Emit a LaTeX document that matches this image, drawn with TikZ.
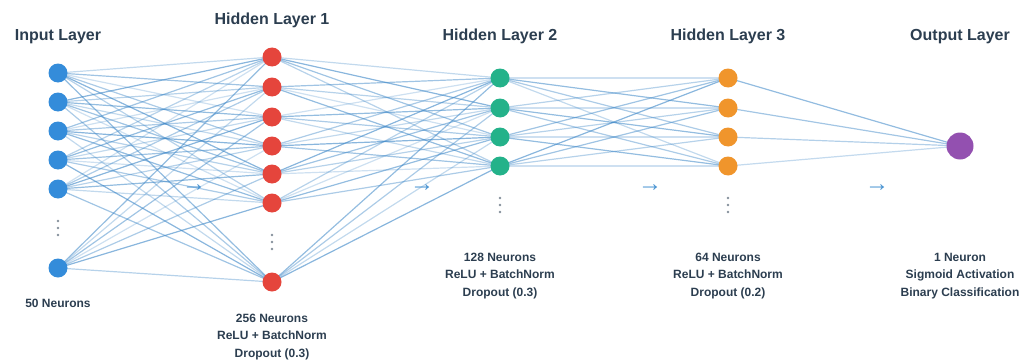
\documentclass[tikz,border=0pt]{standalone}
\usepackage{fontspec}
\setmainfont{Liberation Sans}
\usetikzlibrary{backgrounds}

\definecolor{ink}{HTML}{2C3E50}
\definecolor{inblue}{HTML}{348CDA}
\definecolor{hred}{HTML}{E5453C}
\definecolor{hgreen}{HTML}{24B28A}
\definecolor{horange}{HTML}{F0952C}
\definecolor{outpurple}{HTML}{9350B0}
\definecolor{linkblue}{HTML}{3A85C6}
\definecolor{arrowblue}{HTML}{4A94D2}
\definecolor{dotgray}{HTML}{85909A}

\begin{document}
\begin{tikzpicture}[x=1pt,y=-1pt,
  neuron/.style={circle, inner sep=0pt, minimum size=19pt, draw=none},
  bigneuron/.style={circle, inner sep=0pt, minimum size=27pt, draw=none},
  link/.style={draw=linkblue, line width=1.2pt},
  title/.style={font=\bfseries\fontsize{16}{19}\selectfont, text=ink, anchor=base, inner sep=0pt},
  caption/.style={font=\bfseries\fontsize{12}{17.5}\selectfont, text=ink, align=center, anchor=base, inner sep=0pt},
  flow/.style={text=arrowblue, font=\fontsize{24}{24}\selectfont, inner sep=0pt},
  ellip/.style={fill=dotgray}]

\useasboundingbox (0,0) rectangle (1035,361);

% layer titles
\node[title] (tIn)  at (58,41)  {Input Layer};
\node[title] (tH1)  at (272,25) {Hidden Layer 1};
\node[title] (tH2)  at (500,41) {Hidden Layer 2};
\node[title] (tH3)  at (728,41) {Hidden Layer 3};
\node[title] (tOut) at (960,41) {Output Layer};

% neurons
\foreach \y [count=\k] in {73,102,131,160,189,268}
  \node[neuron, fill=inblue] (i\k) at (58,\y) {};
\foreach \y [count=\k] in {57,87,117,146,174,203,282}
  \node[neuron, fill=hred] (a\k) at (272,\y) {};
\foreach \y [count=\k] in {78,108,137,166}
  \node[neuron, fill=hgreen] (b\k) at (500,\y) {};
\foreach \y [count=\k] in {78,108,137,166}
  \node[neuron, fill=horange] (c\k) at (728,\y) {};
\node[bigneuron, fill=outpurple] (o) at (960,146) {};

% fully connected weights, behind the neurons
\begin{pgfonlayer}{background}
  \foreach \p in {1,...,6}
    \foreach \q in {1,...,7} {
      \pgfmathsetmacro\op{0.25+0.35*mod(\p*5+\q*3,7)/6}
      \draw[link, draw opacity=\op] (i\p.center) -- (a\q.center);
    }
  \foreach \p in {1,...,7}
    \foreach \q in {1,...,4} {
      \pgfmathsetmacro\op{0.25+0.35*mod(\p*3+\q*5,7)/6}
      \draw[link, draw opacity=\op] (a\p.center) -- (b\q.center);
    }
  \foreach \p in {1,...,4}
    \foreach \q in {1,...,4} {
      \pgfmathsetmacro\op{0.25+0.35*mod(\p*2+\q*5,7)/6}
      \draw[link, draw opacity=\op] (b\p.center) -- (c\q.center);
    }
  \foreach \p in {1,...,4} {
    \pgfmathsetmacro\op{0.3+0.25*mod(\p*3,4)/3}
    \draw[link, draw opacity=\op] (c\p.center) -- (o.center);
  }
\end{pgfonlayer}

% omitted-neuron marks
\foreach \x/\y in {58/228, 272/242, 500/205, 728/205}
  \foreach \d in {-7,0,7}
    \fill[ellip] (\x,\y+\d) circle (1.3pt);

% flow arrows between layers
\node[flow] (f1) at (194,188) {→};
\node[flow] (f2) at (422,188) {→};
\node[flow] (f3) at (650,188) {→};
\node[flow] (f4) at (877,188) {→};

% layer descriptions (anchored on the baseline of the last line)
\node[caption] (dIn)  at (58,307)  {50 Neurons};
\node[caption] (dH1)  at (272,357) {256 Neurons\\ReLU + BatchNorm\\Dropout (0.3)};
\node[caption] (dH2)  at (500,296) {128 Neurons\\ReLU + BatchNorm\\Dropout (0.3)};
\node[caption] (dH3)  at (728,296) {64 Neurons\\ReLU + BatchNorm\\Dropout (0.2)};
\node[caption] (dOut) at (960,296) {1 Neuron\\Sigmoid Activation\\Binary Classification};
\end{tikzpicture}
\end{document}
